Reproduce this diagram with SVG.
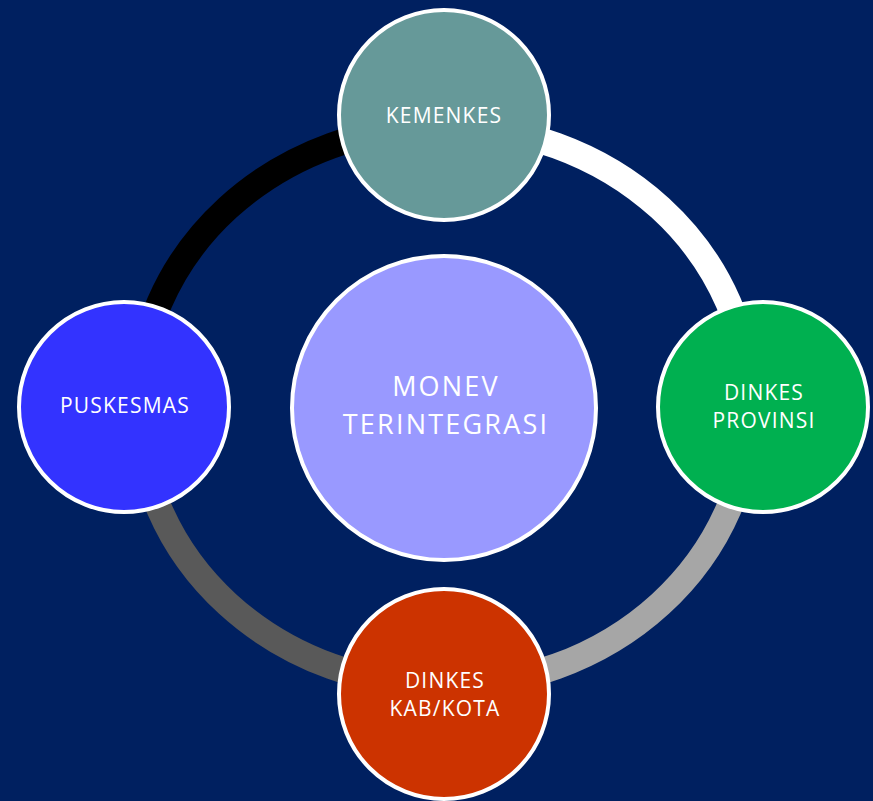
<svg xmlns="http://www.w3.org/2000/svg" width="873" height="801" viewBox="0 0 873 801">
<style>
.ring{fill:none;stroke-width:26}
.node{stroke:#FFFFFF;stroke-width:4}
.lbl{font-family:"Open Sans","Liberation Sans",sans-serif;font-size:21px;letter-spacing:1.2px;fill:#FFFFFF;text-anchor:middle}
.big{font-size:27px;letter-spacing:2.2px}
</style>
<rect x="0" y="0" width="873" height="801" fill="#002060"/>
<g id="connectors">
<path class="ring" stroke="#000000" d="M138,406 A306,280 0 0 1 444,126"/>
<path class="ring" stroke="#FFFFFF" d="M444,126 A306,280 0 0 1 750,406"/>
<path class="ring" stroke="#A6A6A6" d="M750,406 A306,280 0 0 1 444,686"/>
<path class="ring" stroke="#595959" d="M444,686 A306,280 0 0 1 138,406"/>
</g>
<g id="center">
<circle class="node" cx="444" cy="408" r="152" fill="#9999FF"/>
<text class="lbl big" x="446" y="396">MONEV</text>
<text class="lbl big" x="446" y="434">TERINTEGRASI</text>
</g>
<g id="kemenkes">
<circle class="node" cx="444" cy="115" r="105" fill="#669999"/>
<text class="lbl" x="444" y="123">KEMENKES</text>
</g>
<g id="dinkes-provinsi">
<circle class="node" cx="763" cy="407" r="105" fill="#00B050"/>
<text class="lbl" x="764" y="400">DINKES</text>
<text class="lbl" x="764" y="428">PROVINSI</text>
</g>
<g id="dinkes-kabkota">
<circle class="node" cx="444" cy="694" r="105" fill="#CC3300"/>
<text class="lbl" x="445" y="688">DINKES</text>
<text class="lbl" x="445" y="716">KAB/KOTA</text>
</g>
<g id="puskesmas">
<circle class="node" cx="124" cy="407" r="105" fill="#3333FF"/>
<text class="lbl" x="125" y="413">PUSKESMAS</text>
</g>
</svg>
